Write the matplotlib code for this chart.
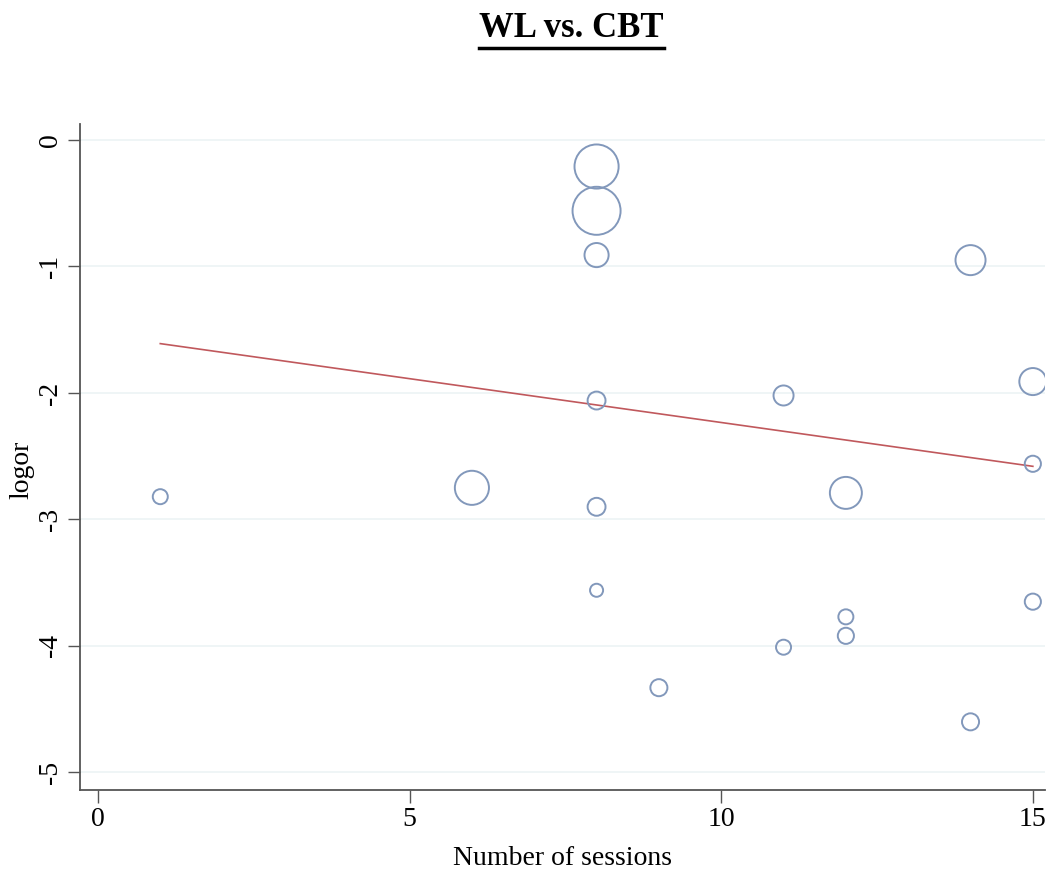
import numpy as np
import matplotlib
matplotlib.use("Agg")
import matplotlib.pyplot as plt
from matplotlib.lines import Line2D

# number of sessions, log odds ratio, study weight
sessions = [1, 6, 8, 8, 8, 8, 8, 8, 9, 11, 11, 12, 12, 12, 14, 14, 15, 15, 15]
logor = [-2.82, -2.75, -0.21, -0.56, -0.91, -2.06, -2.90, -3.56, -4.33,
         -2.02, -4.01, -2.79, -3.77, -3.92, -0.95, -4.60, -1.91, -2.56, -3.65]
weight = [2.25, 11.6, 19.4, 23.0, 5.8, 3.2, 3.2, 1.7, 2.9,
          4.0, 2.25, 10.2, 2.25, 2.6, 9.0, 2.9, 7.3, 2.6, 2.6]

# meta-regression fitted line
fit_x = [1, 15]
fit_y = [-1.61, -2.58]

xticks = [0, 5, 10, 15]
yticks = [0, -1, -2, -3, -4, -5]

plt.rcParams['font.family'] = ['Liberation Serif', 'DejaVu Serif']

fig = plt.figure(figsize=(10.51, 8.76), dpi=100)
ax = fig.add_axes([0.076, 0.098, 0.918, 0.761])

ax.set_xlim(-0.29, 15.19)
ax.set_ylim(-5.14, 0.13)

for yv in yticks:
    ax.axhline(yv, color='#ecf3f5', lw=1.2, zorder=0)

sz = [w * 52 for w in weight]
ax.scatter(sessions, logor, s=sz, facecolors='none', edgecolors='#8298bb',
           linewidths=1.4, zorder=3)
ax.plot(fit_x, fit_y, color='#c0585c', lw=1.2, zorder=2)

ax.set_xticks(xticks)
ax.set_yticks(yticks)
ax.set_yticklabels([str(v) for v in yticks], rotation=90, va='center')
ax.tick_params(axis='both', length=9, width=1.0, color='#555555',
               labelsize=20, pad=3)

for s in ['top', 'right']:
    ax.spines[s].set_visible(False)
for s in ['left', 'bottom']:
    ax.spines[s].set_color('#555555')
    ax.spines[s].set_linewidth(1.3)

ax.set_xlabel('Number of sessions', fontsize=20, labelpad=10)
ax.set_ylabel('logor', fontsize=20)
ax.yaxis.set_label_coords(-0.047, 0.48)

t = fig.text(0.544, 0.986, 'WL vs. CBT', ha='center', va='top',
             fontsize=25, fontweight='bold')

# underline the title
fig.canvas.draw()
bb = t.get_window_extent().transformed(fig.transFigure.inverted())
uy = bb.y0 - 0.003
fig.add_artist(Line2D([bb.x0, bb.x1], [uy, uy], color='black', lw=2.5,
                      transform=fig.transFigure))

fig.savefig('out.png', dpi=100)
